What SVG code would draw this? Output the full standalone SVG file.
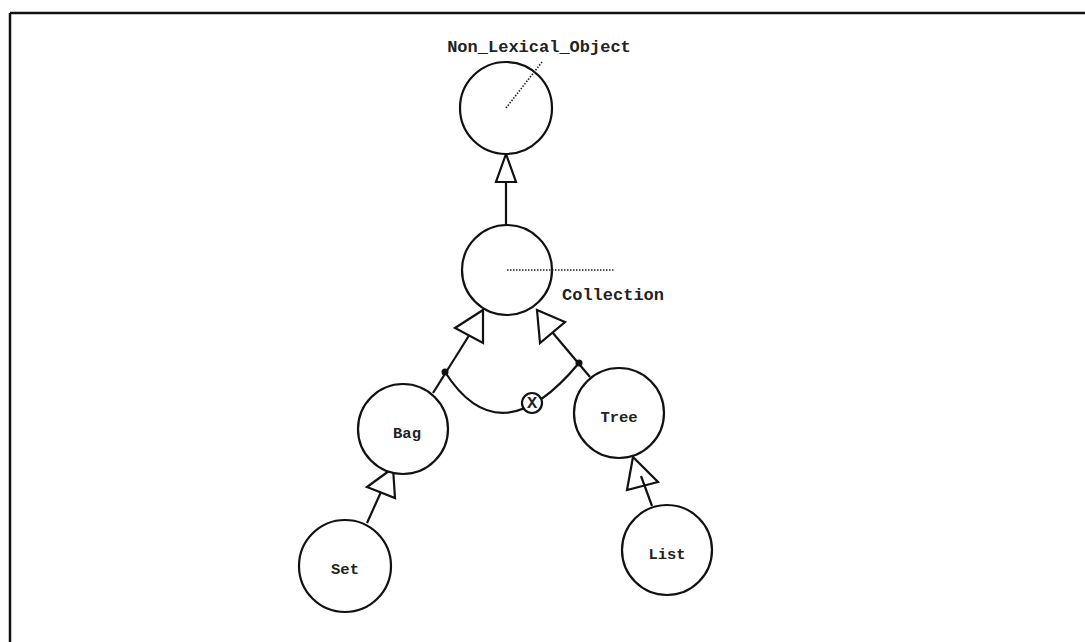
<svg xmlns="http://www.w3.org/2000/svg" width="1085" height="642" viewBox="0 0 1085 642">
<style>
.node{fill:#fff;stroke:#111;stroke-width:2.2}
.lbl{font-family:"Liberation Mono","Courier New",monospace;font-weight:bold;font-size:17px;fill:#222}
.nl{font-size:15.5px}
.edge{stroke:#111;stroke-width:2.2;fill:none}
.tri{fill:#fff;stroke:#111;stroke-width:2.2;stroke-linejoin:miter}
.dot{stroke:#222;stroke-width:1.6;stroke-dasharray:1.5 1.5;fill:none}
</style>
<rect width="1085" height="642" fill="#fff"/>
<g id="frame">
<line x1="10" y1="13" x2="1085" y2="13" stroke="#111" stroke-width="2.5"/>
<line x1="10" y1="13" x2="10" y2="642" stroke="#111" stroke-width="2.5"/>
</g>
<g id="connectors">
<line class="edge" x1="506" y1="182" x2="506" y2="225"/>
<polygon class="tri" points="506,154 496,182 516,182"/>
<line class="edge" x1="433" y1="393" x2="469" y2="335.5"/>
<polygon class="tri" points="483,310 455,328 483,343"/>
<line class="edge" x1="590" y1="377" x2="552.5" y2="332.5"/>
<polygon class="tri" points="537,310 540,343 565,322"/>
<path class="edge" d="M445,372 Q500,458 579,363"/>
<circle cx="445" cy="372" r="3.5" fill="#111"/>
<circle cx="579" cy="363" r="3.5" fill="#111"/>
<g id="xor">
<circle cx="532" cy="403" r="10" fill="#fff" stroke="#111" stroke-width="2.2"/>
<text x="532" y="408" text-anchor="middle" class="lbl" font-size="13">X</text>
</g>
<line class="edge" x1="367" y1="523" x2="381" y2="492"/>
<polygon class="tri" points="393,468 367,487 395,498"/>
<polygon class="tri" points="633,457 627,490 658,482"/>
<line class="edge" x1="652" y1="506" x2="641" y2="476"/>
</g>
<g id="Non_Lexical_Object">
<circle class="node" cx="506" cy="108" r="46"/>
<line class="dot" x1="506" y1="108" x2="542" y2="62"/>
<text class="lbl" x="539" y="52" text-anchor="middle">Non_Lexical_Object</text>
</g>
<g id="Collection">
<circle class="node" cx="507" cy="270" r="45"/>
<line class="dot" x1="507" y1="270" x2="614" y2="270"/>
<text class="lbl" x="562" y="300">Collection</text>
</g>
<g id="Bag">
<circle class="node" cx="403" cy="429" r="45"/>
<text class="lbl nl" x="407" y="438" text-anchor="middle">Bag</text>
</g>
<g id="Tree">
<circle class="node" cx="619" cy="413" r="45"/>
<text class="lbl nl" x="619" y="422" text-anchor="middle">Tree</text>
</g>
<g id="Set">
<circle class="node" cx="345" cy="566" r="46"/>
<text class="lbl nl" x="345" y="574" text-anchor="middle">Set</text>
</g>
<g id="List">
<circle class="node" cx="667" cy="550" r="45"/>
<text class="lbl nl" x="667" y="559" text-anchor="middle">List</text>
</g>
</svg>
